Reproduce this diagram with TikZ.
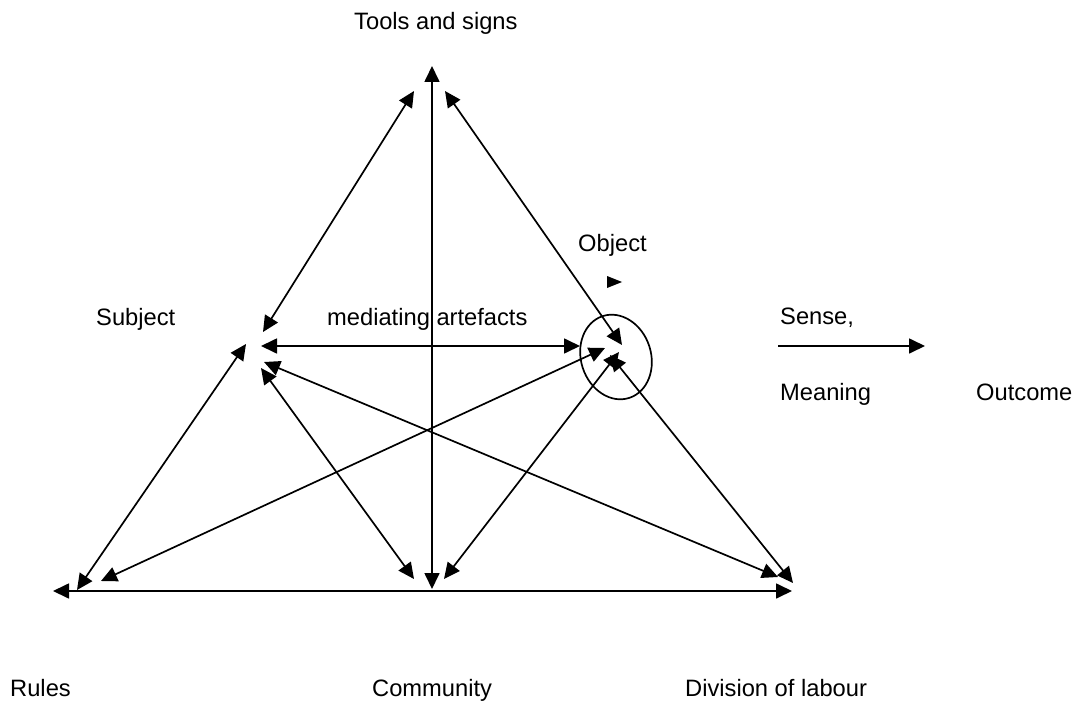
\documentclass[tikz,border=0pt]{standalone}
\usepackage{fontspec}
\setmainfont{Liberation Sans}
\usetikzlibrary{arrows.meta,shapes.geometric}
\begin{document}
\begin{tikzpicture}[x=1pt,y=-1pt,
  tip/.tip={Triangle[length=16pt,width=15pt]},
  link/.style={line width=1.7pt,{tip}-{tip}},
  oneway/.style={line width=1.7pt,-{tip}},
  lbl/.style={anchor=base west,inner sep=0pt,font=\fontsize{23.7}{28}\selectfont}]
\useasboundingbox (0,0) rectangle (1076,706);

% arrow end points around the triangle
\coordinate (toolsTop) at (432,66);
\coordinate (toolsL)   at (414,91);
\coordinate (toolsR)   at (445,91);
\coordinate (comDown)  at (432,589);
\coordinate (subjUp)   at (263,332);
\coordinate (subjH)    at (261,346);
\coordinate (subjRl)   at (246,344);
\coordinate (subjDiv)  at (264,362);
\coordinate (subjCom)  at (261,368);
\coordinate (objTools) at (622,345);
\coordinate (objH)     at (580,346);
\coordinate (objRl)    at (605,348);
\coordinate (objCom)   at (619,352);
\coordinate (objDiv)   at (610,355);
\coordinate (rlSubj)   at (77,590);
\coordinate (rlEnd)    at (53,591);
\coordinate (rlObj)    at (101,581);
\coordinate (comSubj)  at (414,579);
\coordinate (comObj)   at (444,579);
\coordinate (divEnd)   at (792,591);
\coordinate (divSubj)  at (778,577);
\coordinate (divObj)   at (793,583);
\coordinate (senseL)   at (778,346);
\coordinate (senseR)   at (925,346);

% labels
\node[lbl] (tools) at (354,30) {Tools and signs};
\node[lbl] (subj)  at (96,325) {Subject};
\node[lbl] (med)   at (327,325) {mediating artefacts};
\node[lbl] (obj)   at (578,251) {Object};
\node[lbl] (sense) at (780,324) {Sense,};
\node[lbl] (mean)  at (780,400) {Meaning};
\node[lbl] (outc)  at (976,400) {Outcome};
\node[lbl] (rules) at (10,696) {Rules};
\node[lbl] (comm)  at (372,696) {Community};
\node[lbl] (div)   at (685,696) {Division of labour};

% object ring
\node[draw,ellipse,line width=1.7pt,inner sep=0pt,minimum width=70pt,
      minimum height=86pt,rotate=18] (ring) at (616,357) {};

% mediating connections
\draw[link] (toolsTop) -- (comDown);
\draw[link] (toolsL) -- (subjUp);
\draw[link] (toolsR) -- (objTools);
\draw[link] (subjH) -- (objH);
\draw[link] (subjRl) -- (rlSubj);
\draw[link] (rlEnd) -- (divEnd);
\draw[link] (rlObj) -- (objRl);
\draw[link] (subjCom) -- (comSubj);
\draw[link] (subjDiv) -- (divSubj);
\draw[link] (comObj) -- (objCom);
\draw[link] (divObj) -- (objDiv);

% outcome arrow
\draw[oneway] (senseL) -- (senseR);

% small marker under Object
\fill (607,276) -- (622,282) -- (607,288) -- cycle;
\end{tikzpicture}
\end{document}
